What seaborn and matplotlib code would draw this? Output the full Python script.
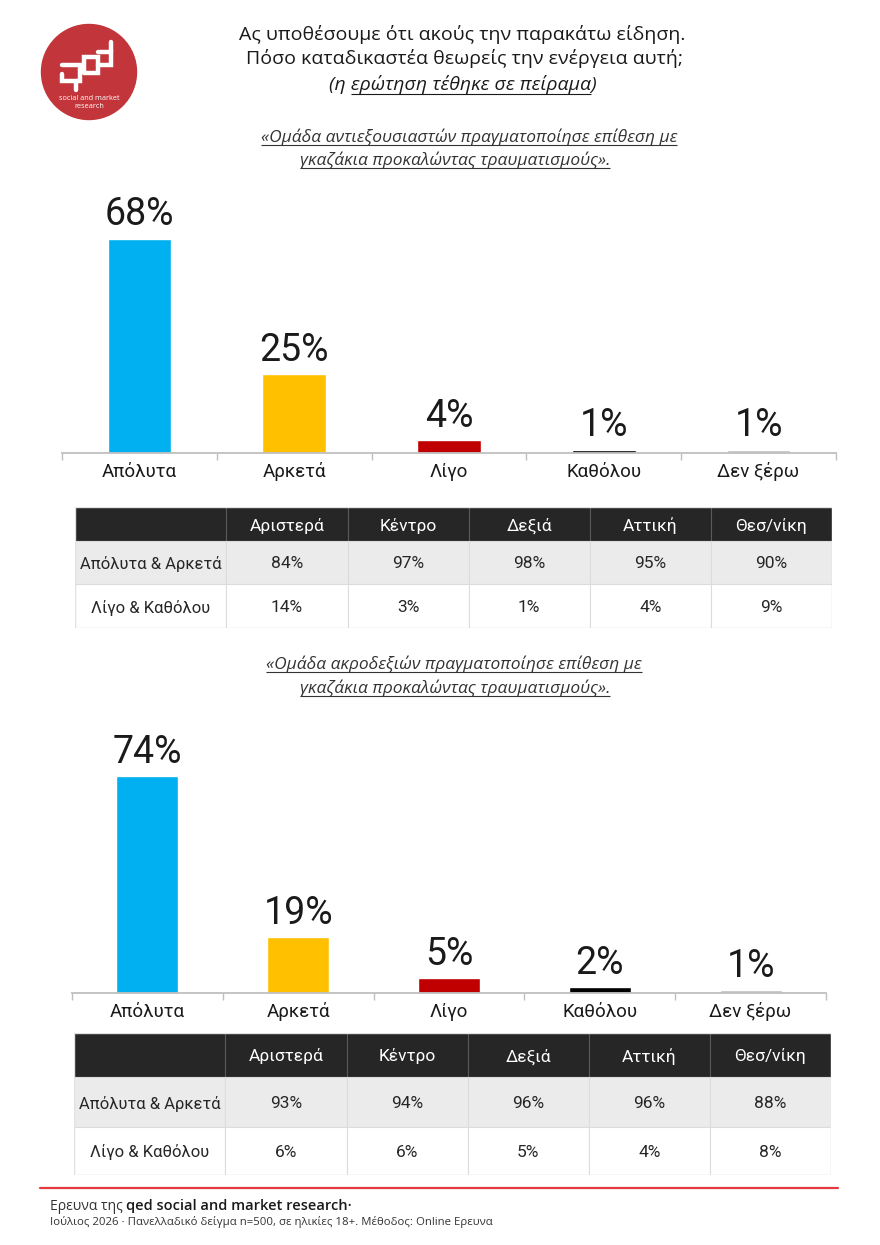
import numpy as np
import pandas as pd
import seaborn as sns
import matplotlib.pyplot as plt
from matplotlib.patches import Rectangle, Circle

# ---- data ----
categories = ["Απόλυτα", "Αρκετά", "Λίγο", "Καθόλου", "Δεν ξέρω"]
values_1 = [68, 25, 4, 1, 1]
values_2 = [74, 19, 5, 2, 1]
bar_colors = ["#00b0f0", "#ffc000", "#c00000", "#000000", "#bfbfbf"]

table_cols = ["Αριστερά", "Κέντρο", "Δεξιά", "Αττική", "Θεσ/νίκη"]
table_rows = ["Απόλυτα & Αρκετά", "Λίγο & Καθόλου"]
table_1 = [[84, 97, 98, 95, 90], [14, 3, 1, 4, 9]]
table_2 = [[93, 94, 96, 96, 88], [6, 6, 5, 4, 8]]

title_lines = ["Ας υποθέσουμε ότι ακούς την παρακάτω είδηση.",
               "Πόσο καταδικαστέα θεωρείς την ενέργεια αυτή;",
               "(η ερώτηση τέθηκε σε πείραμα)"]
subtitle_1 = ["«Ομάδα αντιεξουσιαστών πραγματοποίησε επίθεση με",
              "γκαζάκια προκαλώντας τραυματισμούς»."]
subtitle_2 = ["«Ομάδα ακροδεξιών πραγματοποίησε επίθεση με",
              "γκαζάκια προκαλώντας τραυματισμούς»."]
footer_1 = "Ιούλιος 2026 · Πανελλαδικό δείγμα n=500, σε ηλικίες 18+. Μέθοδος: Online Ερευνα"

sns.set_theme(style="white")
FONT = ["Open Sans", "DejaVu Sans"]
NARROW = ["Roboto", "DejaVu Sans"]
plt.rcParams["font.family"] = FONT

W, H = 880, 1245
fig = plt.figure(figsize=(W / 100, H / 100), dpi=100)
fig.patch.set_facecolor("white")

# full-figure canvas in pixel coordinates for decorations
cv = fig.add_axes([0, 0, 1, 1])
cv.set_xlim(0, W)
cv.set_ylim(H, 0)
cv.axis("off")


def px_axes(x0, y0, x1, y1):
    return fig.add_axes([x0 / W, 1 - y1 / H, (x1 - x0) / W, (y1 - y0) / H])


def underlined(x, y, s, size, style="normal", color="#1a1a1a", lw=0.8, skip_l="", skip_r=""):
    t = cv.text(x, y, s, ha="center", va="center", fontsize=size, style=style,
                color=color, family=FONT)
    fig.canvas.draw()
    r = fig.canvas.get_renderer()
    bb = t.get_window_extent(r)
    inv = cv.transData.inverted()
    (xa, ya), (xb, yb) = inv.transform([[bb.x0, bb.y0], [bb.x1, bb.y1]])

    def width(part):
        if not part:
            return 0
        tt = cv.text(0, 0, part, fontsize=size, style=style, family=FONT)
        b = tt.get_window_extent(r)
        tt.remove()
        return b.width
    xa += width(skip_l)
    xb -= width(skip_r)
    cv.plot([xa, xb], [ya - 1, ya - 1], color=color, lw=lw, solid_capstyle="butt")


def bar_chart(x0, x1, base, top, scale, vals):
    ax = px_axes(x0, top, x1, base)
    ax.patch.set_alpha(0)
    df = pd.DataFrame({"cat": categories, "val": vals})
    sns.barplot(data=df, x="cat", y="val", hue="cat", palette=bar_colors,
                width=0.41, legend=False, ax=ax, saturation=1)
    ax.set_ylim(0, (base - top) / scale)
    ax.set_xlim(-0.5, len(categories) - 0.5)
    for c, v in zip(ax.containers, vals):
        ax.bar_label(c, labels=[f"{v}%"], padding=4, fontsize=27,
                     color="#1a1a1a", family=NARROW)
    for s in ["top", "left", "right"]:
        ax.spines[s].set_visible(False)
    ax.spines["bottom"].set_color("#bfbfbf")
    ax.spines["bottom"].set_linewidth(1.3)
    ax.set_yticks([])
    ax.set_xlabel("")
    ax.set_ylabel("")
    ax.tick_params(axis="x", which="major", length=0, pad=17, labelsize=13.5,
                   labelcolor="#1a1a1a")
    for lab in ax.get_xticklabels():
        lab.set_family(NARROW)
        lab.set_va("baseline")
    ax.set_xticks(np.arange(-0.5, len(categories)), minor=True)
    ax.tick_params(axis="x", which="minor", length=5, width=1, color="#bfbfbf",
                   bottom=True)
    return ax


def table(x0, y0, x1, y1, row_h, data):
    ax = px_axes(x0, y0, x1, y1)
    col_w = [1.25] + [1] * len(table_cols)
    edges = np.concatenate([[0], np.cumsum(col_w)])
    yed = np.concatenate([[0], np.cumsum(row_h)])
    ax.set_xlim(0, edges[-1])
    ax.set_ylim(yed[-1], 0)
    ax.axis("off")
    fills = ["#262626", "#ebebeb", "#ffffff"]
    for r in range(3):
        for c in range(len(col_w)):
            line = "#5a5a5a" if r == 0 else "#dcdcdc"
            ax.add_patch(Rectangle((edges[c], yed[r]), col_w[c], row_h[r],
                                   facecolor=fills[r], edgecolor=line, lw=0.8))
            cx = (edges[c] + edges[c + 1]) / 2
            cy = (yed[r] + yed[r + 1]) / 2
            if r == 0:
                if c > 0:
                    ax.text(cx, cy, table_cols[c - 1], ha="center", va="center_baseline",
                            color="white", fontsize=12.5, family=NARROW)
            else:
                s = table_rows[r - 1] if c == 0 else f"{data[r - 1][c - 1]}%"
                ax.text(cx, cy, s, ha="center", va="center_baseline", color="#262626",
                        fontsize=12.5 if c > 0 else 12, family=NARROW)
    ax.add_patch(Rectangle((0, 0), edges[-1], yed[-1], fill=False,
                           edgecolor="#e2e2e2", lw=1))


# ---- logo ----
cv.add_patch(Circle((89, 72), 47.5, color="#c2353a", zorder=2))
glyph = [
    [(62, 65), (80, 65), (80, 81), (62, 81), (62, 74)],
    [(76, 81), (76, 90)],
    [(80, 70), (84, 70), (84, 57), (98, 57), (98, 73), (84, 73)],
    [(98, 52), (111, 52), (111, 65), (98, 65)],
    [(111, 52), (111, 42)],
]
for seg in glyph:
    xs, ys = zip(*seg)
    cv.plot(xs, ys, color="white", lw=3.2, zorder=3, solid_joinstyle="miter")
cv.text(89, 99, "social and market", ha="center", va="center", fontsize=5.2,
        color="white", zorder=3)
cv.text(89, 107, "research", ha="center", va="center", fontsize=5.2,
        color="white", zorder=3)

# ---- titles ----
cv.text(462, 34, title_lines[0], ha="center", va="center", fontsize=14, color="#1a1a1a")
cv.text(465, 59, title_lines[1], ha="center", va="center", fontsize=14, color="#1a1a1a")
underlined(463, 85, title_lines[2], 14, style="italic", color="#1a1a1a",
           skip_l="(η ", skip_r=")")
underlined(469, 137, subtitle_1[0], 12.5, style="italic", color="#333333")
underlined(455, 160, subtitle_1[1], 12.5, style="italic", color="#333333")
underlined(454, 664, subtitle_2[0], 12.5, style="italic", color="#333333")
underlined(455, 688, subtitle_2[1], 12.5, style="italic", color="#333333")

# ---- charts & tables ----
bar_chart(62, 836, 453, 185, 3.15, values_1)
table(75, 507, 832, 628, [34, 43, 44], table_1)
bar_chart(72, 826, 993, 720, 2.93, values_2)
table(74, 1033, 831, 1175, [44, 50, 48], table_2)

# ---- footer ----
cv.plot([40, 838], [1188, 1188], color="#e23a3f", lw=1.6)
t1 = cv.text(50, 1206, "Ερευνα της ", ha="left", va="center", fontsize=10, color="#333333")
fig.canvas.draw()
bb = t1.get_window_extent(fig.canvas.get_renderer())
x_next = cv.transData.inverted().transform([[bb.x1, bb.y0]])[0][0]
cv.text(x_next, 1206, "qed social and market research·", ha="left", va="center",
        fontsize=10.5, color="#1a1a1a", fontweight="semibold")
cv.text(50, 1222, footer_1, ha="left", va="center", fontsize=8.2, color="#333333")

fig.savefig("out.png", dpi=100, facecolor="white")
